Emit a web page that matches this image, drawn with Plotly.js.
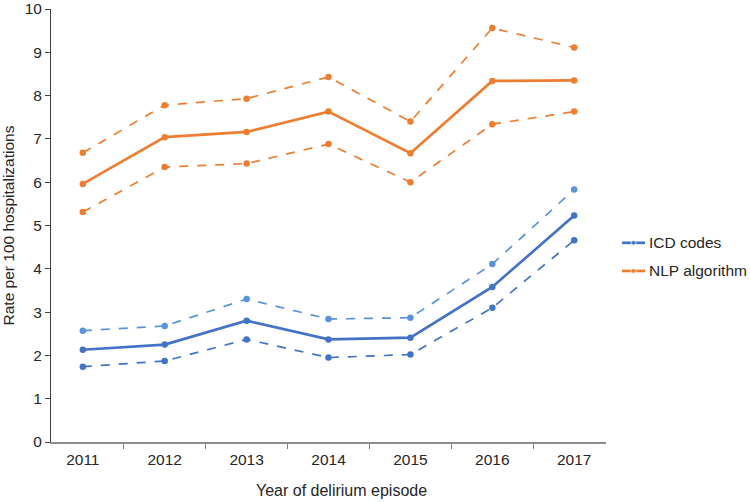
<!DOCTYPE html>
<html>
<head>
<meta charset="utf-8">
<script src="https://cdn.plot.ly/plotly-3.0.1.min.js"></script>
<style>
  body { margin: 0; background: #fff; }
  #chart { width: 750px; height: 502px; }
</style>
</head>
<body>
<div id="chart"></div>
<script>
var years = ["2011", "2012", "2013", "2014", "2015", "2016", "2017"];

var icdRate  = [2.13, 2.25, 2.80, 2.37, 2.41, 3.58, 5.23];
var icdUpper = [2.57, 2.68, 3.30, 2.84, 2.87, 4.11, 5.83];
var icdLower = [1.74, 1.87, 2.37, 1.95, 2.02, 3.10, 4.66];

var nlpRate  = [5.96, 7.04, 7.16, 7.63, 6.67, 8.34, 8.35];
var nlpUpper = [6.68, 7.78, 7.93, 8.43, 7.40, 9.56, 9.11];
var nlpLower = [5.31, 6.35, 6.43, 6.88, 6.00, 7.34, 7.63];

// legend entries (drawn by hand so they fit in the right margin)
var legendNames = ["ICD codes", "NLP algorithm"];
var legendLevels = [4.60, 3.95];   // in y-axis units
var swatchX = [0, 0.5, 1];

var blue = "#4472C4";
var lightBlue = "#5B93DA";
var orange = "#ED7D31";

function series(y, name, color, dashed) {
    return {
        x: years,
        y: y,
        type: 'scatter',
        mode: 'lines+markers',
        name: name,
        showlegend: false,
        line: { color: color, width: dashed ? 1.7 : 2.7, dash: dashed ? 'dash' : 'solid' },
        marker: { color: color, size: 6.5 },
        cliponaxis: false
    };
}

function swatch(level, color) {
    return {
        x: swatchX,
        y: [level, level, level],
        xaxis: 'x2',
        yaxis: 'y',
        type: 'scatter',
        mode: 'lines+markers',
        showlegend: false,
        line: { color: color, width: 2.7 },
        marker: { color: color, size: [0, 5, 0] },
        cliponaxis: false
    };
}

var traces = [
    series(icdUpper, 'ICD upper', lightBlue, true),
    series(icdLower, 'ICD lower', blue, true),
    series(nlpUpper, 'NLP upper', orange, true),
    series(nlpLower, 'NLP lower', orange, true),
    series(icdRate, legendNames[0], blue, false),
    series(nlpRate, legendNames[1], orange, false),
    swatch(legendLevels[0], blue),
    swatch(legendLevels[1], orange)
];

var legendNotes = legendNames.map(function(name, i) {
    return {
        text: name,
        xref: 'paper',
        yref: 'y',
        x: 0.857,
        y: legendLevels[i],
        xanchor: 'left',
        yanchor: 'middle',
        showarrow: false,
        font: { size: 15.5, color: '#262626' }
    };
});

// x title sits a little right of the plot centre in the original
var xTitle = {
    text: 'Year of delirium episode',
    xref: 'paper',
    yref: 'paper',
    x: 0.4173,
    y: -0.1125,
    xanchor: 'center',
    yanchor: 'middle',
    showarrow: false,
    font: { size: 16, color: '#262626' }
};

var layout = {
    width: 750,
    height: 502,
    margin: { l: 51, r: 4, t: 9, b: 60 },
    paper_bgcolor: '#fff',
    plot_bgcolor: '#fff',
    showlegend: false,
    font: { family: 'Liberation Sans, Arial, sans-serif', size: 15.5, color: '#262626' },
    xaxis: {
        type: 'category',
        domain: [0, 0.7986],
        tickson: 'boundaries',
        ticks: 'outside',
        ticklen: 5,
        tickcolor: '#7f7f7f',
        tickwidth: 1.2,
        ticklabelstandoff: 3,
        showline: true,
        linecolor: '#8c8c8c',
        linewidth: 1.6,
        showgrid: false,
        zeroline: false
    },
    xaxis2: {
        domain: [0.8216, 0.8547],
        range: [0, 1],
        anchor: 'y',
        visible: false
    },
    yaxis: {
        range: [0, 10],
        dtick: 1,
        ticks: 'outside',
        ticklen: 5,
        tickcolor: '#404040',
        ticklabeloverflow: 'allow',
        showline: true,
        linecolor: '#404040',
        linewidth: 1,
        showgrid: false,
        zeroline: false,
        title: { text: 'Rate per 100 hospitalizations', standoff: 15, font: { size: 15.5 } }
    },
    annotations: legendNotes.concat([xTitle])
};

Plotly.newPlot('chart', traces, layout, { displayModeBar: false, staticPlot: true });
</script>
</body>
</html>
